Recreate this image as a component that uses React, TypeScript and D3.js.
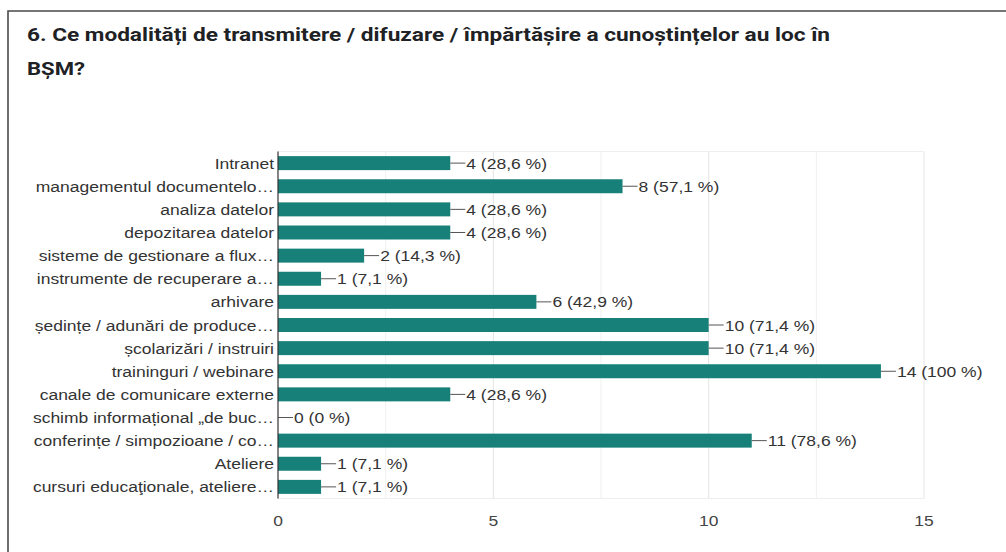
import React, { useEffect, useRef } from "react";
import * as d3 from "d3";

const titleLines = [
  "6. Ce modalități de transmitere /  difuzare / împărtășire a cunoștințelor au loc în",
  "BȘM?",
];

const categories = [
  "Intranet",
  "managementul documentelo…",
  "analiza datelor",
  "depozitarea datelor",
  "sisteme de gestionare a flux…",
  "instrumente de recuperare a…",
  "arhivare",
  "ședințe / adunări de produce…",
  "școlarizări / instruiri",
  "traininguri / webinare",
  "canale de comunicare externe",
  "schimb informațional „de buc…",
  "conferințe / simpozioane / co…",
  "Ateliere",
  "cursuri educaţionale, ateliere…",
];

const counts = [4, 8, 4, 4, 2, 1, 6, 10, 10, 14, 4, 0, 11, 1, 1];
const percents = ["28,6", "57,1", "28,6", "28,6", "14,3", "7,1", "42,9", "71,4", "71,4", "100", "28,6", "0", "78,6", "7,1", "7,1"];
const xTicks = [0, 5, 10, 15];
const gridValues = [2.5, 5, 7.5, 10, 12.5, 15];

const W = 1006;
const H = 552;
const plot = { left: 278, right: 924, top: 151.5, bottom: 498.5 };
const barColor = "#178079";
const sx = 1.13; // the source picture is stretched horizontally
const fs = 15.5;

export default function App() {
  const ref = useRef<SVGSVGElement>(null);

  useEffect(() => {
    const svg = d3.select(ref.current);
    svg.selectAll("*").remove();

    const x = d3.scaleLinear().domain([0, 15]).range([plot.left, plot.right]);
    const y = d3
      .scaleBand()
      .domain(categories)
      .range([plot.top, plot.bottom])
      .paddingInner(0.395)
      .paddingOuter(0.2);

    svg.append("rect").attr("width", W).attr("height", H).attr("fill", "#fff");

    // frame
    svg.append("path")
      .attr("d", `M8,${H} L8,11 L${W},11`)
      .attr("fill", "none")
      .attr("stroke", "#4a4a4a")
      .attr("stroke-width", 1.6);

    // title
    svg.selectAll(".title")
      .data(titleLines)
      .join("text")
      .attr("x", 27)
      .attr("y", (d, i) => 41 + i * 34)
      .attr("font-family", "Roboto, 'Noto Sans', sans-serif")
      .attr("font-weight", 700)
      .attr("font-size", 18)
      .attr("fill", "#202124")
      .attr("textLength", (d, i) => (i === 0 ? 803 : 58))
      .attr("lengthAdjust", "spacingAndGlyphs")
      .text((d) => d);

    // grid
    const g = svg.append("g");
    g.selectAll(".grid")
      .data(gridValues)
      .join("line")
      .attr("x1", (d) => x(d))
      .attr("x2", (d) => x(d))
      .attr("y1", plot.top)
      .attr("y2", plot.bottom)
      .attr("stroke", (d) => (d % 5 === 0 ? "#e4e4e4" : "#f0f0f0"))
      .attr("stroke-width", 1);
    g.append("line")
      .attr("x1", plot.left).attr("x2", plot.right)
      .attr("y1", plot.top).attr("y2", plot.top)
      .attr("stroke", "#eeeeee");
    g.append("line")
      .attr("x1", plot.left).attr("x2", plot.right)
      .attr("y1", plot.bottom).attr("y2", plot.bottom)
      .attr("stroke", "#eeeeee");

    // bars
    const rows = categories.map((c, i) => ({ c, v: counts[i], p: percents[i] }));
    g.selectAll(".bar")
      .data(rows)
      .join("rect")
      .attr("x", x(0))
      .attr("y", (d) => y(d.c)!)
      .attr("width", (d) => x(d.v) - x(0))
      .attr("height", y.bandwidth())
      .attr("fill", barColor);

    // leader lines + value labels
    g.selectAll(".lead")
      .data(rows)
      .join("line")
      .attr("x1", (d) => x(d.v))
      .attr("x2", (d) => x(d.v) + 15)
      .attr("y1", (d) => y(d.c)! + y.bandwidth() / 2)
      .attr("y2", (d) => y(d.c)! + y.bandwidth() / 2)
      .attr("stroke", "#555")
      .attr("stroke-width", 1);

    const font = "'Liberation Sans', Arial, sans-serif";

    g.selectAll(".val")
      .data(rows)
      .join("text")
      .attr("transform", (d) => `translate(${x(d.v) + 16},${y(d.c)! + y.bandwidth() / 2 + 5.5}) scale(${sx},1)`)
      .attr("font-family", font)
      .attr("font-size", fs)
      .attr("fill", "#333")
      .text((d) => `${d.v} (${d.p} %)`);

    // category labels
    g.selectAll(".cat")
      .data(rows)
      .join("text")
      .attr("transform", (d) => `translate(${plot.left - 4},${y(d.c)! + y.bandwidth() / 2 + 5.5}) scale(${sx},1)`)
      .attr("text-anchor", "end")
      .attr("font-family", font)
      .attr("font-size", fs)
      .attr("fill", "#333")
      .text((d) => d.c);

    // axis line
    g.append("line")
      .attr("x1", plot.left).attr("x2", plot.left)
      .attr("y1", plot.top).attr("y2", plot.bottom)
      .attr("stroke", "#333")
      .attr("stroke-width", 1.2);

    // tick labels
    g.selectAll(".tick")
      .data(xTicks)
      .join("text")
      .attr("transform", (d) => `translate(${x(d)},${526}) scale(${sx},1)`)
      .attr("text-anchor", "middle")
      .attr("font-family", font)
      .attr("font-size", fs)
      .attr("fill", "#444")
      .text((d) => d);
  }, []);

  return (
    <svg
      ref={ref}
      width={W}
      height={H}
      style={{ position: "absolute", left: 0, top: 0, display: "block" }}
    />
  );
}
